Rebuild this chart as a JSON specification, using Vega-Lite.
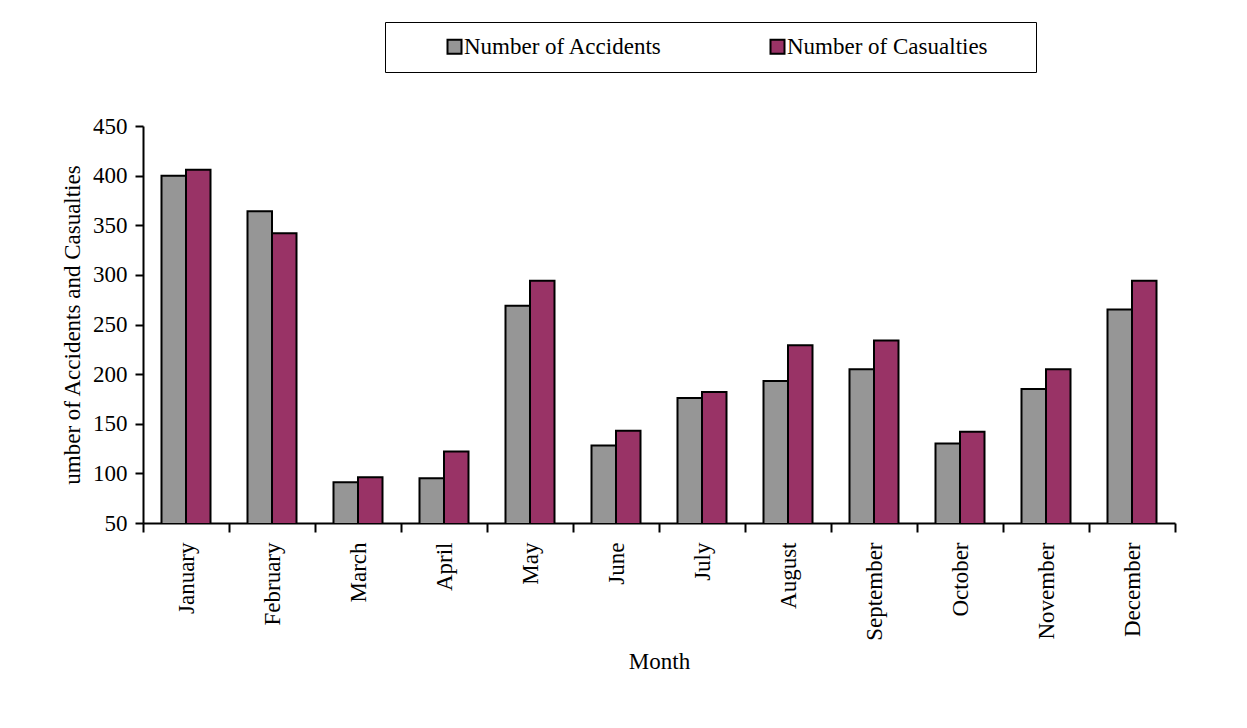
{
  "$schema": "https://vega.github.io/schema/vega-lite/v6.json",
  "width": 1032,
  "height": 397,
  "autosize": {"type": "none"},
  "padding": {"left": 143, "top": 126, "right": 72, "bottom": 205},
  "background": "white",
  "title": {"text": "2002", "font": "Liberation Serif", "fontSize": 23, "fontWeight": "bold", "anchor": "middle", "frame": "group", "offset": 118, "color": "black"},
  "data": {
    "values": [
      {"month": "January", "series": "Number of Accidents", "value": 400},
      {"month": "January", "series": "Number of Casualties", "value": 406},
      {"month": "February", "series": "Number of Accidents", "value": 364},
      {"month": "February", "series": "Number of Casualties", "value": 342},
      {"month": "March", "series": "Number of Accidents", "value": 91},
      {"month": "March", "series": "Number of Casualties", "value": 96},
      {"month": "April", "series": "Number of Accidents", "value": 95},
      {"month": "April", "series": "Number of Casualties", "value": 122},
      {"month": "May", "series": "Number of Accidents", "value": 269},
      {"month": "May", "series": "Number of Casualties", "value": 294},
      {"month": "June", "series": "Number of Accidents", "value": 128},
      {"month": "June", "series": "Number of Casualties", "value": 143},
      {"month": "July", "series": "Number of Accidents", "value": 176},
      {"month": "July", "series": "Number of Casualties", "value": 182},
      {"month": "August", "series": "Number of Accidents", "value": 193},
      {"month": "August", "series": "Number of Casualties", "value": 229},
      {"month": "September", "series": "Number of Accidents", "value": 205},
      {"month": "September", "series": "Number of Casualties", "value": 234},
      {"month": "October", "series": "Number of Accidents", "value": 130},
      {"month": "October", "series": "Number of Casualties", "value": 142},
      {"month": "November", "series": "Number of Accidents", "value": 185},
      {"month": "November", "series": "Number of Casualties", "value": 205},
      {"month": "December", "series": "Number of Accidents", "value": 265},
      {"month": "December", "series": "Number of Casualties", "value": 294}
    ]
  },
  "mark": {"type": "bar", "stroke": "black", "strokeWidth": 2, "clip": true},
  "encoding": {
    "x": {
      "field": "month", "type": "nominal",
      "sort": ["January","February","March","April","May","June","July","August","September","October","November","December"],
      "scale": {"paddingInner": 0, "paddingOuter": 0},
      "axis": {
        "title": "Month", "titleFont": "Liberation Serif", "titleFontSize": 23, "titleFontWeight": "normal", "titleColor": "black", "titlePadding": 10,
        "labelAngle": -90, "labelFont": "Liberation Serif", "labelFontSize": 23, "labelColor": "black", "labelPadding": 10,
        "tickBand": "extent", "tickColor": "black", "tickWidth": 2, "tickSize": 9,
        "domainColor": "black", "domainWidth": 2, "grid": false
      }
    },
    "xOffset": {"field": "series", "sort": ["Number of Accidents", "Number of Casualties"], "scale": {"paddingInner": 0, "paddingOuter": 0.755}},
    "y": {
      "field": "value", "type": "quantitative",
      "scale": {"domain": [50, 450], "zero": false},
      "axis": {
        "title": "umber of Accidents and Casualties", "titleFont": "Liberation Serif", "titleFontSize": 23, "titleFontWeight": "normal", "titleColor": "black", "titlePadding": 8,
        "values": [50,100,150,200,250,300,350,400,450],
        "labelFont": "Liberation Serif", "labelFontSize": 23, "labelColor": "black", "labelPadding": 8,
        "tickColor": "black", "tickWidth": 2, "tickSize": 8,
        "domainColor": "black", "domainWidth": 2, "grid": false
      }
    },
    "color": {
      "field": "series", "type": "nominal",
      "scale": {"domain": ["Number of Accidents", "Number of Casualties"], "range": ["#969696", "#993366"]},
      "legend": {
        "title": null, "orient": "none", "legendX": 242, "legendY": -104,
        "direction": "horizontal", "columns": 2, "columnPadding": 59,
        "strokeColor": "black", "padding": 13, "fillColor": "white",
        "symbolType": "square", "symbolSize": 196, "symbolStrokeColor": "black", "symbolStrokeWidth": 2, "symbolOpacity": 1, "symbolOffset": 45,
        "labelFont": "Liberation Serif", "labelFontSize": 23, "labelColor": "black", "labelOffset": -2, "labelLimit": 400,
        "labelExpr": "datum.label == 'Number of Casualties' ? datum.label + '\u00a0\u00a0\u00a0\u00a0\u00a0\u00a0\u200b' : datum.label"
      }
    }
  },
  "config": {"view": {"stroke": null}, "font": "Liberation Serif"}
}
